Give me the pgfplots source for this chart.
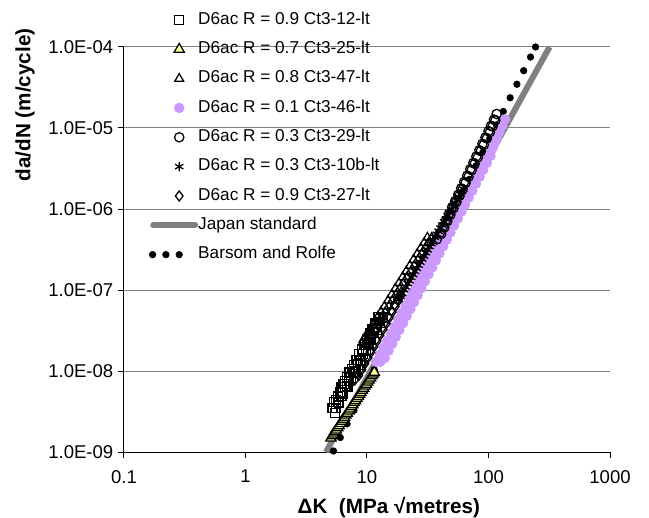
\documentclass[border=0pt]{standalone}
\usepackage{fontspec}
\setmainfont{Liberation Sans}
\usepackage{pgfplots}
\pgfplotsset{compat=1.18}

\definecolor{jpgray}{HTML}{808080}
\definecolor{lav}{HTML}{CC99FF}
\definecolor{paleyel}{HTML}{FFFF99}

\newcommand\tickfont{\fontsize{13.9}{16}\selectfont}
\newcommand\legfont{\fontsize{12.9}{15}\selectfont}
\newcommand\labfont{\fontsize{15.5}{18}\selectfont\bfseries}

\pgfplotsset{
  markleg/.style={legend image code/.code={
      \path[draw=none, fill=none] (0pt,-4pt) rectangle (34.5pt,4pt);
      \draw[##1] plot coordinates {(21pt,0pt)};}},
  lineleg/.style={legend image code/.code={
      \path[draw=none, fill=none] (0pt,-4pt) rectangle (34.5pt,4pt);
      \draw[##1] (1.5pt,0pt) -- (33pt,0pt);}},
  dotleg/.style={legend image code/.code={
      \path[draw=none, fill=none] (0pt,-4pt) rectangle (34.5pt,4pt);
      \draw[##1] plot coordinates {(1pt,0pt) (11pt,0pt) (21pt,0pt)};}},
  hollow/.style={only marks, draw=black, line width=0.95pt, markleg},
}

\begin{document}
\begin{tikzpicture}
\begin{axis}[
  xmode=log, ymode=log,
  scale only axis, width=364.5pt, height=303.75pt,
  xmin=0.1, xmax=1000, ymin=1e-9, ymax=1e-4,
  xtick={0.1,1,10,100,1000}, xticklabels={0.1,1,10,100,1000},
  ytick={1e-9,1e-8,1e-7,1e-6,1e-5,1e-4},
  yticklabels={1.0E-09,1.0E-08,1.0E-07,1.0E-06,1.0E-05,1.0E-04},
  xminorticks=false, yminorticks=false,
  axis x line*=bottom, axis y line*=left,
  axis line style={black, line width=0.75pt},
  tick align=outside, major tick length=4.5pt,
  tick style={black, line width=0.75pt},
  ymajorgrids, grid style={jpgray, line width=0.75pt},
  tick label style={font=\tickfont},
  xticklabel style={yshift=-5.5pt},
  clip mode=individual,
  legend cell align=left,
  legend style={at={(0.0514,1.088)}, anchor=north west, draw=none, fill=none,
    inner sep=0pt, row sep=9.5pt, column sep=0pt, font=\legfont,
    nodes={inner sep=0pt, text height=9.5pt, text depth=3pt}},
]
% Japan standard and Barsom and Rolfe, both drawn under the test data
\addplot[jpgray, line width=4.5pt, forget plot] coordinates {(4.6,1e-9) (318,1e-4)};
\addplot[only marks, mark=*, mark size=2.5pt, black, forget plot]
  coordinates {(5.30,1.03e-9) (6.03,1.51e-9) (6.86,2.23e-9) (7.80,3.27e-9) (8.87,4.82e-9)
  (10.09,7.09e-9) (11.47,1.04e-8) (13.05,1.53e-8) (14.84,2.26e-8) (16.88,3.32e-8)
  (19.20,4.88e-8) (21.84,7.19e-8) (24.85,1.06e-7) (28.25,1.56e-7) (32.14,2.29e-7)
  (36.55,3.37e-7) (41.57,4.96e-7) (47.28,7.29e-7) (53.78,1.07e-6) (61.16,1.58e-6)
  (69.56,2.32e-6) (79.12,3.42e-6) (89.99,5.03e-6) (102.3,7.39e-6) (116.4,1.09e-5)
  (132.4,1.60e-5) (150.6,2.36e-5) (171.3,3.47e-5) (194.8,5.10e-5) (221.6,7.51e-5)
  (244.0,1.00e-4)};

% D6ac R = 0.9 Ct3-12-lt
\addplot[hollow, mark=square, mark size=3.4pt]
  coordinates {(5.43,3.02e-9) (5.53,3.51e-9) (5.75,4.11e-9) (5.92,4.06e-9) (6.17,4.90e-9)
  (6.38,5.30e-9) (6.64,6.34e-9) (6.89,6.44e-9) (7.10,7.52e-9) (7.41,8.15e-9)
  (7.74,9.66e-9) (8.04,9.82e-9) (8.41,1.20e-8) (8.83,1.35e-8) (9.29,1.63e-8)
  (9.77,1.76e-8) (10.28,2.14e-8) (10.84,2.43e-8) (11.43,2.96e-8) (12.02,3.21e-8)
  (12.74,3.96e-8) (13.49,4.57e-8)
  (5.21,3.52e-9) (5.36,4.11e-9) (5.54,4.41e-9) (5.74,4.84e-9) (5.96,5.51e-9)
  (6.18,6.29e-9) (6.42,6.90e-9) (6.64,7.54e-9) (6.89,8.46e-9) (7.19,9.61e-9)
  (7.50,1.05e-8) (7.81,1.18e-8) (8.19,1.37e-8) (8.61,1.61e-8) (9.05,1.84e-8)
  (9.52,2.11e-8) (10.03,2.46e-8) (10.57,2.91e-8) (11.13,3.33e-8) (11.76,3.87e-8)
  (12.45,4.60e-8)};
\addlegendentry{D6ac R = 0.9 Ct3-12-lt}

% D6ac R = 0.7 Ct3-25-lt
\addplot[hollow, mark=triangle*, mark size=4.4pt, fill=paleyel]
  coordinates {(5.05,1.49e-9) (5.18,1.58e-9) (5.31,1.67e-9) (5.45,1.77e-9) (5.59,1.87e-9)
  (5.75,1.99e-9) (5.89,2.11e-9) (6.05,2.25e-9) (6.21,2.39e-9) (6.38,2.54e-9)
  (6.54,2.68e-9) (6.71,2.85e-9) (6.88,3.01e-9) (7.07,3.20e-9) (7.25,3.39e-9)
  (7.45,3.61e-9) (7.64,3.83e-9) (7.84,4.07e-9) (8.05,4.30e-9) (8.27,4.57e-9)
  (8.48,4.84e-9) (8.70,5.14e-9) (8.91,5.43e-9) (9.16,5.78e-9) (9.40,6.12e-9)
  (9.65,6.50e-9) (9.89,6.87e-9) (10.15,7.29e-9) (10.41,7.71e-9) (10.70,8.21e-9)
  (10.97,8.71e-9) (11.24,9.19e-9) (11.49,9.66e-9)};
\addlegendentry{D6ac R = 0.7 Ct3-25-lt}

% D6ac R = 0.8 Ct3-47-lt
\addplot[hollow, mark=triangle, mark size=3.8pt]
  coordinates {(9.59,2.11e-8) (10.0,2.33e-8) (10.47,2.60e-8) (10.96,2.90e-8) (11.48,3.24e-8)
  (12.02,3.62e-8) (12.59,4.05e-8) (13.34,4.65e-8) (14.13,5.33e-8) (15.14,6.30e-8)
  (16.22,7.43e-8) (17.38,8.77e-8) (18.62,1.04e-7) (19.95,1.22e-7) (21.38,1.44e-7)
  (22.91,1.70e-7) (24.55,2.01e-7) (26.30,2.37e-7) (28.18,2.80e-7) (30.20,3.30e-7)
  (31.99,3.79e-7) (34.12,4.43e-7)
  (9.31,2.40e-8) (9.72,2.66e-8) (10.18,2.97e-8) (10.66,3.32e-8) (11.16,3.70e-8)
  (11.69,4.14e-8) (12.31,4.70e-8) (13.04,5.39e-8) (13.90,6.26e-8) (14.90,7.42e-8)
  (15.96,8.75e-8) (17.10,1.04e-7) (18.32,1.22e-7) (19.63,1.44e-7) (21.03,1.70e-7)
  (22.54,2.00e-7) (24.15,2.37e-7) (25.88,2.79e-7) (27.73,3.29e-7) (29.54,3.83e-7)
  (31.40,4.44e-7)};
\addlegendentry{D6ac R = 0.8 Ct3-47-lt}

% D6ac R = 0.1 Ct3-46-lt
\addplot[only marks, mark=*, mark size=3.7pt, draw=lav, fill=lav, markleg]
  coordinates {(12.88,1.30e-8) (13.84,1.60e-8) (14.84,1.95e-8) (15.90,2.37e-8) (17.03,2.89e-8)
  (18.25,3.52e-8) (19.55,4.30e-8) (20.95,5.24e-8) (22.45,6.38e-8) (24.06,7.78e-8)
  (25.78,9.48e-8) (27.62,1.16e-7) (29.59,1.41e-7) (31.71,1.72e-7) (33.98,2.09e-7)
  (36.40,2.55e-7) (39.01,3.11e-7) (41.80,3.79e-7) (44.79,4.62e-7) (48.00,5.64e-7)
  (51.43,6.87e-7) (55.10,8.37e-7) (59.04,1.02e-6) (63.27,1.24e-6) (67.80,1.52e-6)
  (72.64,1.85e-6) (77.84,2.25e-6) (83.40,2.75e-6) (89.37,3.35e-6) (95.76,4.08e-6)
  (102.6,4.98e-6) (109.9,6.07e-6) (116.5,7.41e-6) (123.4,9.04e-6) (130.0,1.07e-5)
  (136.5,1.28e-5)
  (13.99,1.45e-8) (15.03,1.78e-8) (16.10,2.16e-8) (17.25,2.63e-8) (18.48,3.21e-8)
  (19.80,3.91e-8) (21.21,4.77e-8) (22.73,5.81e-8) (24.35,7.08e-8) (26.10,8.63e-8)
  (27.96,1.05e-7) (29.96,1.28e-7) (32.11,1.56e-7) (34.41,1.90e-7) (36.86,2.32e-7)
  (39.50,2.83e-7) (42.33,3.45e-7) (45.35,4.20e-7) (48.60,5.13e-7) (52.07,6.25e-7)
  (55.80,7.62e-7) (59.79,9.28e-7) (64.06,1.13e-6) (68.65,1.38e-6) (73.56,1.68e-6)
  (78.82,2.05e-6) (84.46,2.50e-6) (90.50,3.05e-6) (96.97,3.71e-6) (103.9,4.53e-6)
  (107.3,5.52e-6) (112.8,6.74e-6) (118.5,8.22e-6)
  (11.90,1.30e-8) (12.78,1.60e-8) (13.71,1.95e-8) (14.69,2.37e-8) (15.73,2.89e-8)
  (16.86,3.52e-8) (18.06,4.30e-8) (19.35,5.24e-8) (20.74,6.38e-8) (22.22,7.78e-8)
  (23.81,9.48e-8) (25.51,1.16e-7) (27.33,1.41e-7) (29.29,1.72e-7) (31.39,2.09e-7)
  (33.63,2.55e-7) (36.04,3.11e-7) (38.62,3.79e-7) (41.38,4.62e-7) (44.34,5.64e-7)
  (47.51,6.87e-7) (50.91,8.37e-7) (54.54,1.02e-6)};
\addlegendentry{D6ac R = 0.1 Ct3-46-lt}

% D6ac R = 0.3 Ct3-29-lt
\addplot[hollow, mark=o, mark size=3.5pt]
  coordinates {(37.50,4.21e-7) (39.81,5.08e-7) (42.17,6.08e-7) (44.67,7.29e-7) (47.32,8.73e-7)
  (50.12,1.05e-6) (53.09,1.25e-6) (56.23,1.50e-6) (59.57,1.80e-6) (63.10,2.16e-6)
  (66.83,2.58e-6) (70.79,3.10e-6) (74.99,3.71e-6) (79.43,4.45e-6) (84.14,5.32e-6)
  (89.13,6.38e-6) (94.41,7.64e-6) (100.0,9.16e-6) (104.7,1.06e-5) (110.9,1.27e-5)
  (116.7,1.49e-5)
  (40.82,4.93e-7) (43.29,5.91e-7) (45.85,7.09e-7) (48.58,8.49e-7) (51.45,1.02e-6)
  (54.51,1.22e-6) (57.72,1.46e-6) (61.14,1.75e-6) (64.78,2.10e-6) (68.61,2.51e-6)
  (72.67,3.01e-6) (76.97,3.61e-6) (81.53,4.32e-6) (86.37,5.18e-6) (91.49,6.20e-6)
  (96.91,7.43e-6) (102.7,8.90e-6) (108.1,1.05e-5) (113.9,1.24e-5)};
\addlegendentry{D6ac R = 0.3 Ct3-29-lt}

% D6ac R = 0.3 Ct3-10b-lt
\addplot[hollow, mark=asterisk, mark size=3.6pt]
  coordinates {(18.13,7.60e-8) (19.47,9.12e-8) (20.87,1.09e-7) (22.35,1.30e-7) (23.96,1.55e-7)
  (25.67,1.85e-7) (27.50,2.20e-7) (29.47,2.62e-7) (31.58,3.13e-7) (33.83,3.73e-7)
  (36.25,4.46e-7) (38.85,5.31e-7) (41.62,6.34e-7) (44.61,7.55e-7) (47.80,9.02e-7)
  (51.21,1.07e-6) (54.88,1.28e-6) (58.80,1.53e-6) (62.00,1.75e-6)
  (18.80,8.36e-8) (20.17,1.00e-7) (21.61,1.20e-7) (23.15,1.43e-7) (24.81,1.70e-7)
  (26.59,2.03e-7) (28.48,2.41e-7) (30.53,2.88e-7) (32.71,3.43e-7) (35.04,4.10e-7)
  (37.56,4.89e-7) (40.24,5.83e-7) (43.12,6.95e-7) (46.20,8.29e-7) (49.51,9.86e-7)
  (53.05,1.18e-6) (56.84,1.41e-6) (60.40,1.64e-6)};
\addlegendentry{D6ac R = 0.3 Ct3-10b-lt}

% D6ac R = 0.9 Ct3-27-lt
\addplot[hollow, mark=diamond, mark size=3.8pt]
  coordinates {(7.94,7.78e-9) (8.41,9.16e-9) (8.91,1.08e-8) (9.44,1.27e-8) (10.0,1.50e-8)
  (10.59,1.76e-8) (11.22,2.07e-8) (11.89,2.45e-8) (12.59,2.88e-8) (13.34,3.40e-8)
  (14.13,4.00e-8) (14.96,4.71e-8) (15.85,5.55e-8) (16.79,6.53e-8) (17.78,7.69e-8)
  (18.62,8.77e-8)
  (8.56,8.81e-9) (9.07,1.04e-8) (9.61,1.23e-8) (10.18,1.45e-8) (10.79,1.70e-8)
  (11.43,2.00e-8) (12.11,2.35e-8) (12.82,2.78e-8) (13.59,3.27e-8) (14.40,3.85e-8)
  (15.24,4.53e-8) (16.15,5.34e-8) (17.10,6.28e-8) (18.11,7.39e-8) (19.06,8.56e-8)};
\addlegendentry{D6ac R = 0.9 Ct3-27-lt}

\addlegendimage{jpgray, line width=4.5pt, line cap=round, lineleg}
\addlegendentry{Japan standard}
\addlegendimage{only marks, mark=*, mark size=2.5pt, black, dotleg}
\addlegendentry{Barsom and Rolfe}

\node[rotate=90, font=\labfont] at (rel axis cs:-0.2037,0.857) {da/dN (m/cycle)};
\node[font=\labfont] at (rel axis cs:0.545,-0.136) {ΔK\ \ (MPa √metres)};

\coordinate (bbsw) at (rel axis cs:-0.2551,-0.1605);
\coordinate (bbne) at (rel axis cs:1.0802,1.1160);
\end{axis}
\pgfresetboundingbox
\path[use as bounding box] (bbsw) rectangle (bbne);
\end{tikzpicture}
\end{document}
